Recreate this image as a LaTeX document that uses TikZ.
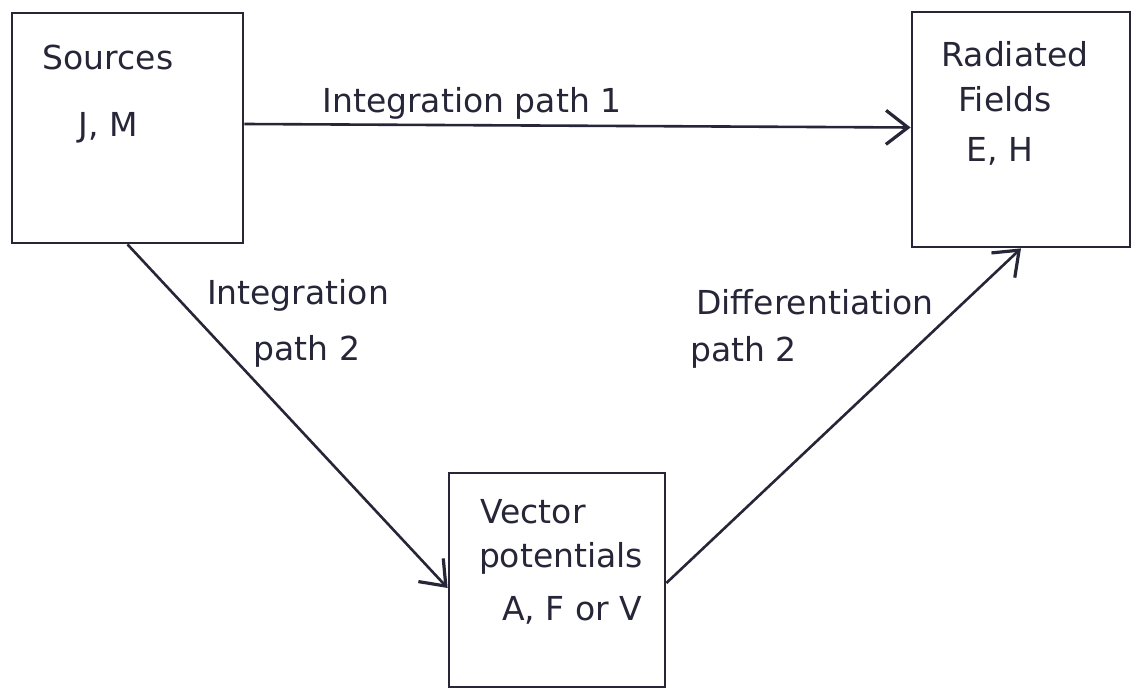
\documentclass[tikz,border=0pt]{standalone}
\usepackage{fontspec}
\setmainfont{DejaVu Sans}
\usetikzlibrary{arrows.meta}
\definecolor{ink}{RGB}{38,38,56}
\tikzset{
  block/.style={draw=ink, line width=2.8pt, rectangle, inner sep=0pt},
  flow/.style={draw=ink, line width=2.6pt, -{Straight Barb[length=22pt,width=34pt,line width=3.2pt]}},
  hand/.style={text=ink, inner sep=0pt, anchor=base, font=\fontsize{33}{40}\selectfont},
}
\begin{document}
\begin{tikzpicture}[x=1pt, y=-1pt]
  \useasboundingbox (0,0) rectangle (1137,692);

  % the three blocks
  \node[block, minimum width=231pt, minimum height=230pt] (src) at (127.5,128) {};
  \node[block, minimum width=218pt, minimum height=235pt] (rad) at (1021,129.5) {};
  \node[block, minimum width=216pt, minimum height=214pt] (vec) at (557,580) {};

  % block contents
  \node[hand] (srcA) at (108,70) {Sources};
  \node[hand] (srcB) at (108,137) {J, M};
  \node[hand] (radA) at (1015,67) {Radiated};
  \node[hand] (radB) at (1005,112) {Fields};
  \node[hand] (radC) at (1000,162) {E, H};
  \node[hand] (vecA) at (533,523) {Vector};
  \node[hand] (vecB) at (561,567) {potentials};
  \node[hand] (vecC) at (572,620) {A, F or V};

  % connectors
  \draw[flow] ([yshift=4pt]src.east) -- ([yshift=2pt]rad.west);
  \draw[flow] (src.south) -- ([yshift=-8pt]vec.west);
  \draw[flow] ([yshift=-3pt]vec.east) -- (rad.south);

  % connector labels
  \node[hand] (p1) at (472,113) {Integration path 1};
  \node[hand] (p2a) at (298,305) {Integration};
  \node[hand] (p2b) at (307,360) {path 2};
  \node[hand] (d2a) at (815,315) {Differentiation};
  \node[hand, anchor=base west] (d2b) at (690,361) {path 2};
\end{tikzpicture}
\end{document}
